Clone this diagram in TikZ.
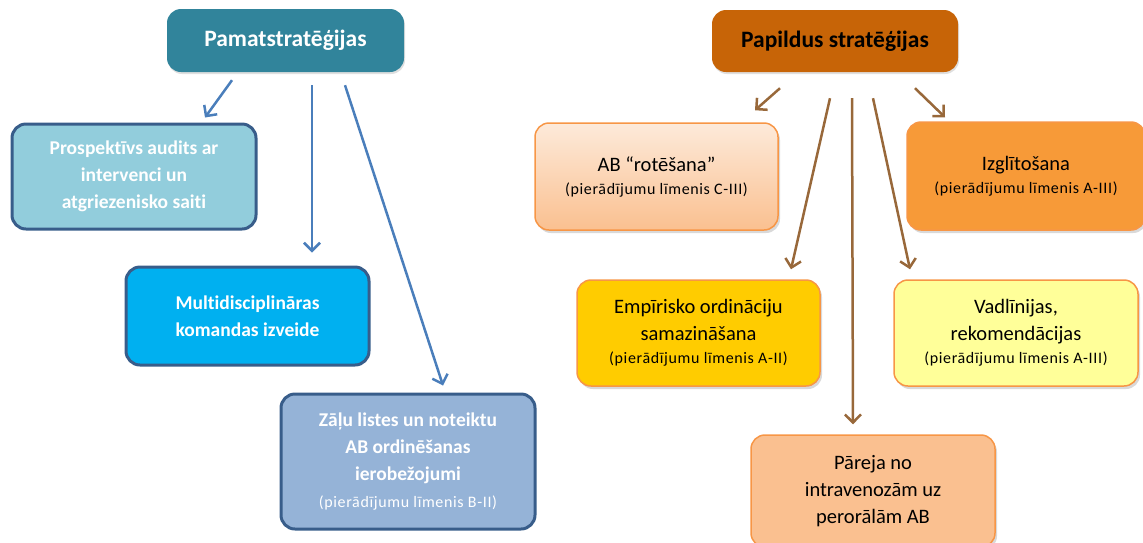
\documentclass[tikz,border=0pt]{standalone}
\usepackage{fontspec}
\setmainfont{Carlito}[Ligatures=NoCommon]
\newfontfamily\lvlfont{Carlito}[Ligatures=NoCommon,LetterSpace=4]
\usetikzlibrary{arrows.meta,shadows}
\definecolor{pamc}{HTML}{31849B}
\definecolor{papc}{HTML}{C76407}
\definecolor{bdark}{HTML}{385D8A}
\definecolor{borange}{HTML}{F79646}
\definecolor{c1}{HTML}{92CDDC}
\definecolor{c2}{HTML}{00B0F0}
\definecolor{c3}{HTML}{95B3D7}
\definecolor{r1t}{HTML}{FDEADA}
\definecolor{r1b}{HTML}{FAC090}
\definecolor{izg}{HTML}{F79A38}
\definecolor{emp}{HTML}{FFCC00}
\definecolor{vad}{HTML}{FFFF99}
\definecolor{par}{HTML}{FAC090}
\definecolor{blarr}{HTML}{4A7EBB}
\definecolor{brarr}{HTML}{98683A}
\begin{document}
\begin{tikzpicture}[x=1pt,y=-1pt,
  box/.style={rounded corners=14pt, align=center, inner sep=0pt},
  title/.style={box, font=\fontsize{23.5}{27}\selectfont\bfseries,
     drop shadow={opacity=0.25, shadow xshift=1pt, shadow yshift=-2pt}},
  lbox/.style={box, draw=bdark, line width=3pt, text=white,
     font=\fontsize{19.5}{27}\selectfont\bfseries},
  rbox/.style={box, draw=borange, line width=1.5pt,
     font=\fontsize{20.5}{27}\selectfont,
     drop shadow={opacity=0.3, shadow xshift=2pt, shadow yshift=-3pt}},
  blarrow/.style={draw=blarr, line width=2.5pt, -{Straight Barb[length=8pt,width=16pt,line width=2.5pt]}},
  brarrow/.style={draw=brarr, line width=2.5pt, -{Straight Barb[length=8pt,width=16pt,line width=2.5pt]}},
]
\path[use as bounding box] (0,0) rectangle (1143,542);
\clip (0,0) rectangle (1143,542);
\newcommand{\lvl}[1]{{\lvlfont\mdseries\fontsize{16}{22}\selectfont #1}}

% left side
\node[title, fill=pamc, text=white, minimum width=237, minimum height=63] (pam) at (285.5,40.5) {Pamatstratēģijas};
\node[lbox, fill=c1, minimum width=244, minimum height=105] (pros) at (134,176.5)
  {Prospektīvs audits ar\\intervenci un\\atgriezenisko saiti};
\node[lbox, fill=c2, minimum width=243, minimum height=98] (multi) at (247.5,316)
  {Multidisciplināras\\komandas izveide};
\node[lbox, fill=c3, minimum width=254, minimum height=135] (zal) at (408,461.5)
  {Zāļu listes un noteiktu\\AB ordinēšanas\\ierobežojumi\\\lvl{(pierādījumu līmenis B-II)}};

% right side
\node[title, fill=papc, text=black, minimum width=246, minimum height=62] (pap) at (835,41) {Papildus stratēģijas};
\node[rbox, top color=r1t, bottom color=r1b, minimum width=243, minimum height=107] (rot) at (656.5,176.5)
  {AB “rotēšana”\\[-4pt]\lvl{(pierādījumu līmenis C-III)}};
\node[rbox, fill=izg, minimum width=238, minimum height=108] (izgl) at (1026,176)
  {Izglītošana\\[-4pt]\lvl{(pierādījumu līmenis A-III)}};
\node[rbox, fill=emp, minimum width=243, minimum height=106] (empi) at (698.5,333)
  {Empīrisko ordināciju\\samazināšana\\[-4pt]\lvl{(pierādījumu līmenis A-II)}};
\node[rbox, fill=vad, minimum width=244, minimum height=106] (vadl) at (1016,333)
  {Vadlīnijas,\\rekomendācijas\\[-4pt]\lvl{(pierādījumu līmenis A-III)}};
\node[rbox, fill=par, minimum width=244, minimum height=112] (pare) at (873,491)
  {Pāreja no\\intravenozām uz\\perorālām AB};

% arrows
\draw[blarrow] ([shift={(-53.5,8)}]pam.south) -- ([shift={(71,-5)}]pros.north);
\draw[blarrow] ([shift={(26.5,13)}]pam.south) -- ([shift={(64.5,-13)}]multi.north);
\draw[blarrow] ([shift={(59.5,13)}]pam.south) -- ([shift={(35,-7)}]zal.north);

\draw[brarrow] ([shift={(-55,16)}]pap.south) -- ([shift={(98.5,-12)}]rot.north);
\draw[brarrow] ([shift={(80,16)}]pap.south) -- ([shift={(-81,-4)}]izgl.north);
\draw[brarrow] ([shift={(-5,26)}]pap.south) -- ([shift={(92.5,-10)}]empi.north);
\draw[brarrow] ([shift={(17,26)}]pap.south) -- ([shift={(-20,-10)}]pare.north);
\draw[brarrow] ([shift={(38,26)}]pap.south) -- ([shift={(-106,-10)}]vadl.north);
\end{tikzpicture}
\end{document}
